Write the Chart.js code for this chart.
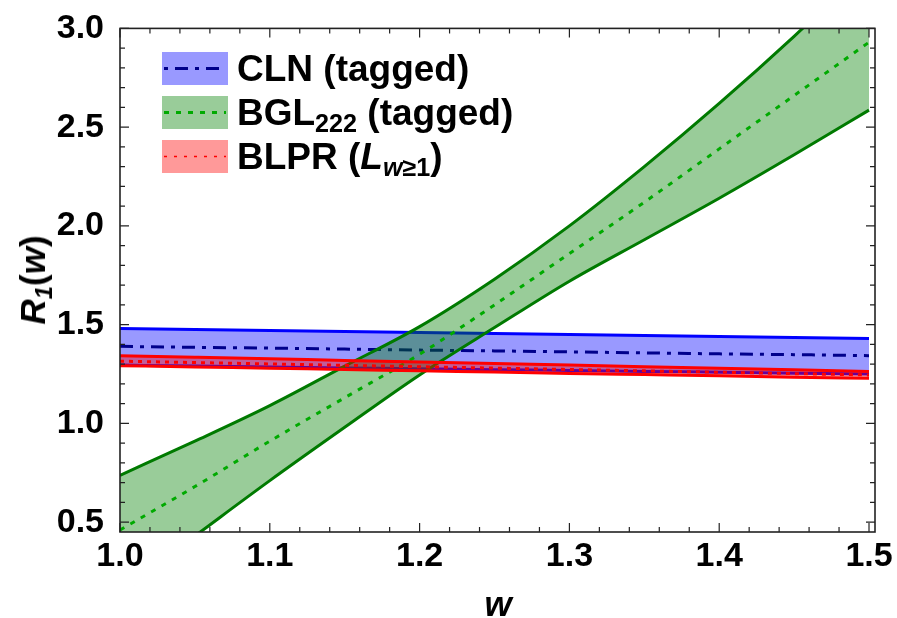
<!DOCTYPE html>
<html>
<head>
<meta charset="utf-8">
<script src="https://cdn.jsdelivr.net/npm/chart.js@4.4.0/dist/chart.umd.min.js"></script>
<style>
html,body{margin:0;padding:0;background:#fff;}
#wrap{position:relative;width:897px;height:618px;font-family:"Liberation Sans",Arial,sans-serif;color:#000;}
#c{position:absolute;left:0;top:0;}
.sw{position:absolute;left:162px;width:66px;height:33px;}
.lt{position:absolute;left:237px;font-weight:bold;font-size:37px;line-height:33px;white-space:nowrap;}
.sub{font-size:0.68em;position:relative;top:0.28em;}
#ytitle{position:absolute;left:33px;top:280px;transform:translate(-50%,-50%) rotate(-90deg);font-weight:bold;font-size:35px;white-space:nowrap;}
#xtitle{position:absolute;left:498px;top:604px;transform:translate(-50%,-50%);font-weight:bold;font-size:35px;font-style:italic;}
</style>
</head>
<body>
<div id="wrap">
<canvas id="c" width="897" height="618"></canvas>
<svg class="sw" style="top:52px" width="66" height="33"><rect width="66" height="33" fill="#9999FF"/><line x1="2" y1="16.5" x2="64" y2="16.5" stroke="#00008B" stroke-width="3" stroke-dasharray="4,7,13,7"/></svg>
<svg class="sw" style="top:96px" width="66" height="33"><rect width="66" height="33" fill="#99CC99"/><line x1="2" y1="16.5" x2="64" y2="16.5" stroke="#00AA00" stroke-width="3" stroke-dasharray="5,7"/></svg>
<svg class="sw" style="top:140px" width="66" height="33"><rect width="66" height="33" fill="#FF9999"/><line x1="2" y1="16.5" x2="64" y2="16.5" stroke="#FF0000" stroke-width="1.5" stroke-dasharray="3,7"/></svg>
<div class="lt" style="top:52px">CLN (tagged)</div>
<div class="lt" style="top:96px">BGL<span class="sub">222</span> (tagged)</div>
<div class="lt" style="top:140px">BLPR (<i>L</i><span class="sub"><i>w</i>≥1</span>)</div>
<div id="ytitle"><i>R</i><span class="sub"><i>1</i></span>(<i>w</i>)</div>
<div id="xtitle">w</div>
</div>
<script>
const w           = [1.00, 1.05, 1.10, 1.15, 1.20, 1.25, 1.30, 1.35, 1.40, 1.45, 1.50];
const clnUpper    = [1.480, 1.475, 1.470, 1.465, 1.460, 1.455, 1.450, 1.445, 1.440, 1.435, 1.430];
const clnCentral  = [1.390, 1.385, 1.381, 1.376, 1.371, 1.367, 1.362, 1.357, 1.352, 1.348, 1.343];
const clnLower    = [1.295, 1.290, 1.286, 1.281, 1.277, 1.272, 1.268, 1.263, 1.259, 1.254, 1.250];
const bglUpper    = [0.737, 0.91, 1.09, 1.29, 1.49, 1.73, 2.00, 2.30, 2.62, 2.96, 3.32];
const bglCentral  = [0.46, 0.68, 0.91, 1.13, 1.35, 1.60, 1.86, 2.12, 2.39, 2.66, 2.93];
const bglLower    = [0.15, 0.43, 0.71, 0.98, 1.245, 1.485, 1.72, 1.93, 2.14, 2.36, 2.586];
const blprUpper   = [1.343, 1.335, 1.327, 1.319, 1.311, 1.303, 1.295, 1.287, 1.279, 1.271, 1.263];
const blprCentral = [1.315, 1.308, 1.301, 1.294, 1.287, 1.280, 1.273, 1.266, 1.259, 1.252, 1.245];
const blprLower   = [1.292, 1.286, 1.279, 1.273, 1.266, 1.260, 1.253, 1.247, 1.241, 1.234, 1.228];

const xMin = 1.0, xMax = 1.504, yMin = 0.45, yMax = 3.0;

const pts = arr => w.map((x, i) => ({x: x, y: arr[i]}));
const isMult = (v, s) => Math.abs(v / s - Math.round(v / s)) < 1e-6;

function ds(arr, color, width, dash, fill, bg) {
  return {
    data: pts(arr), borderColor: color, borderWidth: width, borderDash: dash || [],
    fill: fill || false, backgroundColor: bg || 'transparent',
    pointRadius: 0, tension: 0.3, cubicInterpolationMode: 'monotone'
  };
}

const frameTicks = {
  id: 'frameTicks',
  afterDatasetsDraw(chart) {
    const {ctx, chartArea: a, scales: {x, y}} = chart;
    ctx.save();
    ctx.strokeStyle = '#222';
    ctx.lineWidth = 1.2;
    ctx.beginPath();
    x.ticks.forEach(t => {
      const px = x.getPixelForValue(t.value);
      const L = isMult(t.value, 0.1) ? 9 : 5;
      ctx.moveTo(px, a.bottom); ctx.lineTo(px, a.bottom - L);
      ctx.moveTo(px, a.top); ctx.lineTo(px, a.top + L);
    });
    y.ticks.forEach(t => {
      const py = y.getPixelForValue(t.value);
      const L = isMult(t.value, 0.5) ? 9 : 5;
      ctx.moveTo(a.left, py); ctx.lineTo(a.left + L, py);
      ctx.moveTo(a.right, py); ctx.lineTo(a.right - L, py);
    });
    ctx.stroke();
    ctx.lineWidth = 1.6;
    ctx.strokeRect(a.left, a.top, a.right - a.left, a.bottom - a.top);
    ctx.restore();
  }
};

const tickFont = {family: '"Liberation Sans", Arial, sans-serif', size: 34, weight: 'bold'};

new Chart(document.getElementById('c'), {
  type: 'line',
  data: {
    datasets: [
      ds(blprCentral, '#FF0000', 3, [4, 5]),
      ds(blprLower, '#FF0000', 3),
      ds(blprUpper, '#FF0000', 3, null, '-1', 'rgba(255,0,0,0.4)'),
      ds(bglCentral, '#00AA00', 3, [5, 7]),
      ds(bglLower, '#007A00', 3),
      ds(bglUpper, '#007A00', 3, null, '-1', 'rgba(0,128,0,0.4)'),
      ds(clnCentral, '#00008B', 3, [13, 7, 4, 7]),
      ds(clnLower, '#0000FF', 3),
      ds(clnUpper, '#0000FF', 3, null, '-1', 'rgba(0,0,255,0.4)')
    ]
  },
  options: {
    responsive: false,
    animation: false,
    layout: {padding: {top: 28, right: 22, left: 0, bottom: 0}},
    plugins: {legend: {display: false}, tooltip: {enabled: false}},
    scales: {
      x: {
        type: 'linear', min: xMin, max: xMax,
        grid: {display: false}, border: {display: false},
        ticks: {
          stepSize: 0.02, includeBounds: false, autoSkip: false, maxRotation: 0, minRotation: 0,
          padding: -4, color: '#000', font: tickFont,
          callback: v => isMult(v, 0.1) ? v.toFixed(1) : ''
        },
        afterFit(s) { s.height = 86; }
      },
      y: {
        type: 'linear', min: yMin, max: yMax,
        grid: {display: false}, border: {display: false},
        ticks: {
          stepSize: 0.1, includeBounds: false, autoSkip: false,
          padding: 8, color: '#000', font: tickFont,
          callback: v => isMult(v, 0.5) ? v.toFixed(1) : ''
        },
        afterFit(s) { s.width = 120; }
      }
    }
  },
  plugins: [frameTicks]
});
</script>
</body>
</html>
